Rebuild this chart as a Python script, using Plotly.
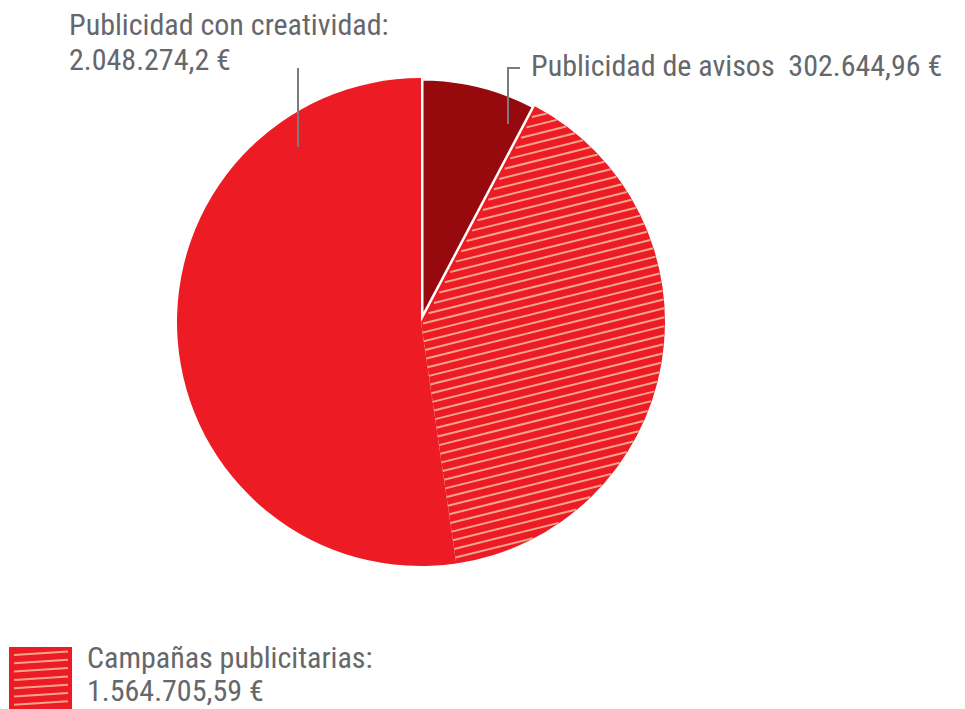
import math
import plotly.graph_objects as go

# Spending by advertising type (EUR)
labels = ["Publicidad de avisos", "Campañas publicitarias", "Publicidad con creatividad"]
values = [302644.96, 1564705.59, 2048274.2]
value_texts = ["302.644,96 €", "1.564.705,59 €", "2.048.274,2 €"]
colors = ["#960a0e", "#ed1c24", "#ed1c24"]

W, H = 965, 709
FONT = "Liberation Sans Narrow, Roboto Condensed, Arial Narrow, DejaVu Sans Condensed, sans-serif"
GREY = "#66676b"
STRIPE = "#f5a48c"

# Pie placement in pixels
CX, CY, R = 421, 322, 244


def px(x):
    return x / W


def py(y):
    return 1 - y / H


fig = go.Figure()
fig.add_trace(go.Pie(
    labels=labels,
    values=values,
    sort=False,
    direction="clockwise",
    rotation=0,
    marker=dict(colors=colors, line=dict(color="white", width=[5, 0, 0])),
    textinfo="none",
    hoverinfo="label+value",
    showlegend=False,
    domain=dict(x=[px(CX - R), px(CX + R)], y=[py(CY + R), py(CY - R)]),
))

# Hatching for the "Campañas publicitarias" slice, clipped to its wedge
total = sum(values)
a1 = 2 * math.pi * values[0] / total
a2 = 2 * math.pi * (values[0] + values[1]) / total


def unit(a):
    # screen direction (y down) for an angle measured clockwise from 12 o'clock
    return (math.sin(a), -math.cos(a))


def stripe_segments(cx, cy, radius, planes, alpha_deg, spacing, offset=0.0):
    al = math.radians(alpha_deg)
    d = (math.cos(al), -math.sin(al))        # rising to the right on screen
    m = (math.sin(al), math.cos(al))         # normal to the stripes
    segs = []
    k = -int(radius / spacing) - 1
    while k * spacing <= radius + spacing:
        s = k * spacing + offset
        k += 1
        if abs(s) >= radius:
            continue
        h = math.sqrt(radius * radius - s * s)
        p0 = (cx + s * m[0], cy + s * m[1])
        t0, t1 = -h, h
        ok = True
        for (nx, ny, c) in planes:
            base = nx * (p0[0] - cx) + ny * (p0[1] - cy) - c
            nd = nx * d[0] + ny * d[1]
            if abs(nd) < 1e-12:
                if base < 0:
                    ok = False
                continue
            t = -base / nd
            if nd > 0:
                t0 = max(t0, t)
            else:
                t1 = min(t1, t)
        if ok and t1 > t0:
            segs.append(((p0[0] + t0 * d[0], p0[1] + t0 * d[1]),
                         (p0[0] + t1 * d[0], p0[1] + t1 * d[1])))
    return segs


u1 = unit(a1)
u2 = unit(a2)
# points clockwise of u1 and counter-clockwise of u2 (screen coordinates, y down)
planes = [(-u1[1], u1[0], 2.5), (u2[1], -u2[0], 0.0)]
segs = stripe_segments(CX, CY, R - 0.5, planes, 14, 8.7, 2.0)


def seg_path(segments):
    parts = []
    for (x0, y0), (x1, y1) in segments:
        parts.append(f"M{px(x0):.5f},{py(y0):.5f}L{px(x1):.5f},{py(y1):.5f}")
    return "".join(parts)


shapes = [
    dict(type="path", xref="paper", yref="paper", path=seg_path(segs),
         line=dict(color=STRIPE, width=2), layer="above"),
    # leader lines
    dict(type="line", xref="paper", yref="paper", x0=px(298), x1=px(298), y0=py(68), y1=py(147),
         line=dict(color="#7a7b7e", width=2), layer="above"),
    dict(type="path", xref="paper", yref="paper",
         path=f"M{px(520)},{py(68)}L{px(508)},{py(68)}L{px(508)},{py(124)}",
         line=dict(color="#7a7b7e", width=2), layer="above"),
    # legend swatch
    dict(type="rect", xref="paper", yref="paper", x0=px(9), x1=px(72), y0=py(647), y1=py(709),
         fillcolor="#ed1c24", line=dict(width=0), layer="above"),
]

# stripes inside the legend swatch
sw_segs = []
for i in range(8):
    yb = 655 + i * 8.3
    y0, y1 = yb, yb - 3.5
    if y0 > 706:
        continue
    sw_segs.append(((14, y0), (68, y1)))
shapes.append(dict(type="path", xref="paper", yref="paper", path=seg_path(sw_segs),
                   line=dict(color=STRIPE, width=2), layer="above"))


def label(text, x, y_mid):
    return dict(text=text, x=px(x), y=py(y_mid), xref="paper", yref="paper",
                xanchor="left", yanchor="middle", showarrow=False, align="left",
                font=dict(family=FONT, size=30, color=GREY))


annotations = [
    label("Publicidad con creatividad:", 67, 25),
    label(value_texts[2], 67, 60),
    label(f"Publicidad de avisos&#160;&#160;{value_texts[0]}", 529, 66),
    label("Campañas publicitarias:", 85, 657),
    label(value_texts[1], 85, 690),
]

fig.update_layout(
    width=W, height=H,
    margin=dict(l=0, r=0, t=0, b=0),
    paper_bgcolor="white",
    plot_bgcolor="white",
    shapes=shapes,
    annotations=annotations,
    showlegend=False,
)

fig.write_html("out.html")
